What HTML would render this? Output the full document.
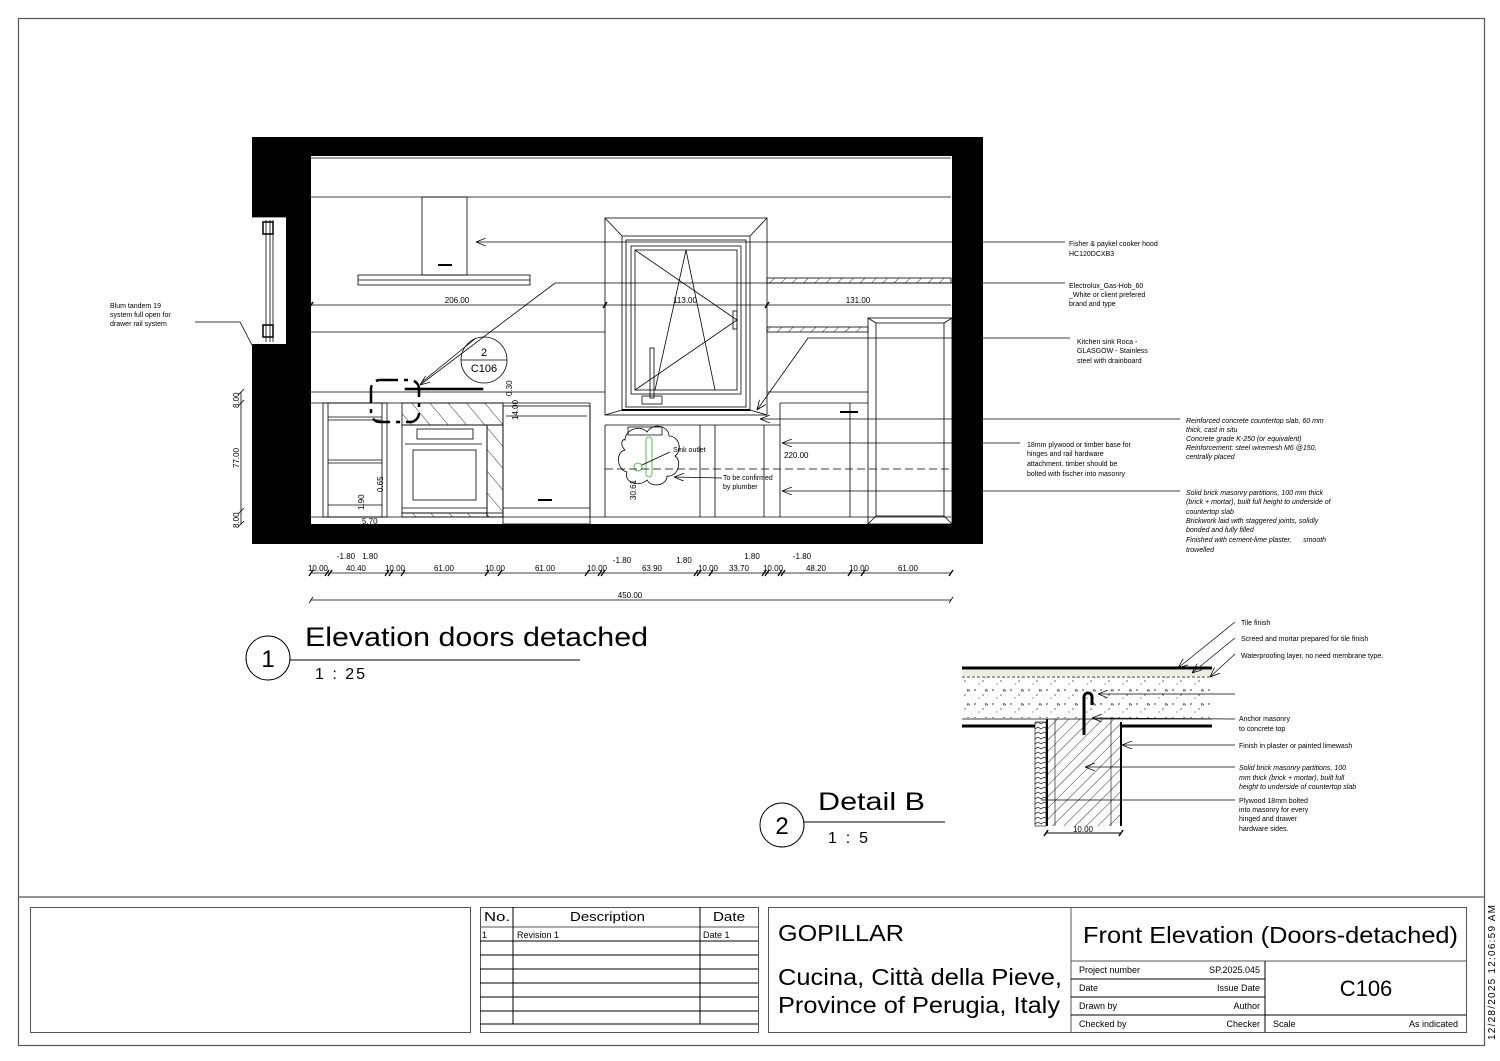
<!DOCTYPE html>
<html><head><meta charset="utf-8"><style>
html,body{margin:0;padding:0;background:#fff;}
svg{display:block;font-family:"Liberation Sans",sans-serif;}
.t{font-size:7px;fill:#000;}
.i{font-size:7px;font-style:italic;fill:#000;}
.d{font-size:8px;fill:#000;font-family:"Liberation Sans Narrow","Liberation Sans",sans-serif;}
</style></head><body>
<svg width="1500" height="1061" viewBox="0 0 1500 1061" xmlns="http://www.w3.org/2000/svg">
<defs>
<pattern id="h" width="8" height="8" patternUnits="userSpaceOnUse" patternTransform="rotate(45)"><line x1="0" y1="0" x2="0" y2="8" stroke="#000" stroke-width="0.8"/></pattern>
<pattern id="h2" width="14" height="14" patternUnits="userSpaceOnUse" patternTransform="rotate(-40)"><line x1="0" y1="0" x2="0" y2="14" stroke="#000" stroke-width="0.8"/></pattern>
<pattern id="dots" width="18" height="14" patternUnits="userSpaceOnUse"><circle cx="3" cy="4" r="0.7"/><circle cx="11" cy="9" r="0.6"/><path d="M14 3 l2 2 h-3z" fill="none" stroke="#000" stroke-width="0.5"/><circle cx="7" cy="12" r="0.5"/></pattern>
<pattern id="zz" width="6" height="5" patternUnits="userSpaceOnUse"><path d="M0 2 l3 2 l3 -2" fill="none" stroke="#000" stroke-width="0.7"/></pattern>
<marker id="a" markerWidth="10" markerHeight="8" refX="10" refY="4" orient="auto" markerUnits="userSpaceOnUse"><path d="M0 0 L10 4 L0 8" fill="none" stroke="#000" stroke-width="0.8"/></marker>
</defs>
<g fill="none" stroke="#000">
<rect x="18.5" y="18.5" width="1466" height="1027" stroke="#555" stroke-width="1.2"/>
<line x1="18" y1="897" x2="1484" y2="897" stroke="#555" stroke-width="1.2"/>
<rect x="30.5" y="907.5" width="440" height="125" stroke="#555"/>
<rect x="480.5" y="907.5" width="278" height="125" stroke="#555"/>
<line x1="480" y1="927" x2="758" y2="927" stroke="#555"/>
<line x1="480" y1="941" x2="758" y2="941"/><line x1="480" y1="955" x2="758" y2="955"/><line x1="480" y1="969" x2="758" y2="969"/><line x1="480" y1="983" x2="758" y2="983"/><line x1="480" y1="997" x2="758" y2="997"/><line x1="480" y1="1011" x2="758" y2="1011"/><line x1="480" y1="1024" x2="758" y2="1024"/>
<line x1="513" y1="907" x2="513" y2="1024"/><line x1="700" y1="907" x2="700" y2="1024"/>
<rect x="768.5" y="907.5" width="698" height="125" stroke="#555"/>
<line x1="1071" y1="907" x2="1071" y2="1032" stroke="#555"/>
<line x1="1071" y1="961" x2="1466" y2="961" stroke="#555"/>
<line x1="1071" y1="979" x2="1265" y2="979"/><line x1="1071" y1="997" x2="1265" y2="997"/><line x1="1071" y1="1015" x2="1466" y2="1015"/>
<line x1="1265" y1="961" x2="1265" y2="1032"/>
</g>
<g fill="#000">
<text x="484" y="921" font-size="13" textLength="26" lengthAdjust="spacingAndGlyphs">No.</text><text x="570" y="921" font-size="13" textLength="75" lengthAdjust="spacingAndGlyphs">Description</text><text x="713" y="921" font-size="13" textLength="32" lengthAdjust="spacingAndGlyphs">Date</text>
<text x="482" y="938" font-size="9">1</text><text x="517" y="938" font-size="9">Revision 1</text><text x="703" y="938" font-size="9">Date 1</text>
<text x="778" y="941" font-size="23" textLength="126" lengthAdjust="spacingAndGlyphs">GOPILLAR</text>
<text x="778" y="985" font-size="23" textLength="284" lengthAdjust="spacingAndGlyphs">Cucina, Città della Pieve,</text>
<text x="778" y="1013" font-size="23" textLength="282" lengthAdjust="spacingAndGlyphs">Province of Perugia, Italy</text>
<text x="1083" y="943" font-size="23" textLength="375" lengthAdjust="spacingAndGlyphs">Front Elevation (Doors-detached)</text>
<text x="1079" y="973" font-size="9">Project number</text><text x="1260" y="973" font-size="9" text-anchor="end">SP.2025.045</text>
<text x="1079" y="991" font-size="9">Date</text><text x="1260" y="991" font-size="9" text-anchor="end">Issue Date</text>
<text x="1079" y="1009" font-size="9">Drawn by</text><text x="1260" y="1009" font-size="9" text-anchor="end">Author</text>
<text x="1079" y="1027" font-size="9">Checked by</text><text x="1260" y="1027" font-size="9" text-anchor="end">Checker</text>
<text x="1273" y="1027" font-size="9">Scale</text><text x="1458" y="1027" font-size="9" text-anchor="end">As indicated</text>
<text x="1366" y="996" font-size="22" text-anchor="middle">C106</text>
<text transform="translate(1495,1040) rotate(-90)" font-size="10" textLength="135" lengthAdjust="spacing">12/28/2025 12:06:59 AM</text>
</g>

<g fill="#000">
<rect x="252" y="137" width="731" height="19"/>
<rect x="252" y="137" width="59" height="80"/>
<rect x="252" y="344" width="59" height="200"/>
<rect x="286" y="217" width="25" height="127"/>
<rect x="952" y="137" width="31" height="407"/>
<rect x="252" y="524" width="731" height="20"/>
</g>
<g fill="none" stroke="#000" stroke-width="0.8">
<line x1="266" y1="220" x2="266" y2="342"/><line x1="270" y1="220" x2="270" y2="342"/><line x1="273" y1="220" x2="273" y2="342"/>
<rect x="263" y="222" width="10" height="12" stroke-width="1.5"/><rect x="263" y="325" width="10" height="12" stroke-width="1.5"/>
<line x1="252" y1="217" x2="286" y2="217"/>
<line x1="311" y1="158" x2="951" y2="158"/>
<line x1="311" y1="197" x2="951" y2="197"/>
<rect x="422" y="197" width="45" height="78"/>
<line x1="438" y1="265" x2="452" y2="265" stroke-width="2"/>
<rect x="358" y="275" width="172" height="10"/><line x1="358" y1="280" x2="530" y2="280"/>
<line x1="311" y1="305" x2="951" y2="305"/>
<line x1="309" y1="308" x2="313" y2="302" stroke-width="1.5"/><line x1="603" y1="308" x2="607" y2="302" stroke-width="1.5"/><line x1="765" y1="308" x2="769" y2="302" stroke-width="1.5"/>
<line x1="311" y1="332" x2="605" y2="332"/>
<rect x="767" y="278" width="184" height="5" fill="url(#h)"/>
<rect x="767" y="327" width="101" height="5" fill="url(#h)"/>
<rect x="605" y="218" width="162" height="197"/>
<path d="M605 218 L622 236 M767 218 L750 236 M605 415 L622 410 M767 415 L750 410"/>
<rect x="622" y="236" width="128" height="174"/>
<rect x="626" y="240" width="120" height="167"/>
<rect x="631" y="246" width="110" height="148"/>
<rect x="635" y="250" width="102" height="140"/>
<path d="M635 250 L737 320 L635 390 M686 250 L655 390 M686 250 L715 390"/>
<rect x="733" y="311" width="4" height="18"/>
<rect x="650" y="348" width="4" height="50"/><rect x="642" y="396" width="20" height="8"/>
<line x1="622" y1="410" x2="750" y2="410" stroke-width="2"/>
<line x1="311" y1="392" x2="605" y2="392"/>
<line x1="767" y1="392" x2="868" y2="392"/>
<line x1="311" y1="403" x2="590" y2="403"/>
<line x1="605" y1="425" x2="780" y2="425"/>
<line x1="311" y1="517" x2="951" y2="517"/>
<line x1="590" y1="403" x2="590" y2="517"/>
<rect x="405" y="388" width="78" height="2" fill="#000" stroke-width="0.6"/>
<rect x="371" y="380" width="48" height="42" rx="9" stroke-width="2.5" stroke-dasharray="18 6 4 6"/>
<rect x="323" y="403" width="64" height="114"/>
<rect x="328" y="403" width="54" height="114"/>
<line x1="328" y1="417" x2="382" y2="417"/><line x1="328" y1="460" x2="382" y2="460"/><line x1="328" y1="505" x2="382" y2="505"/>
<line x1="328" y1="420" x2="382" y2="420"/><line x1="328" y1="463" x2="382" y2="463"/>
<rect x="402" y="403" width="101" height="22" fill="url(#h2)"/>
<rect x="487" y="425" width="16" height="92" fill="url(#h2)"/>
<rect x="402" y="425" width="85" height="88"/>
<rect x="402" y="513" width="101" height="4" fill="url(#h2)"/>
<rect x="417" y="429" width="56" height="10"/>
<line x1="405" y1="444" x2="482" y2="444"/>
<rect x="413" y="450" width="63" height="50"/>
<line x1="402" y1="508" x2="487" y2="508"/>
<rect x="503" y="406" width="87" height="118"/>
<line x1="506" y1="416" x2="587" y2="416"/><line x1="503" y1="508" x2="590" y2="508"/>
<line x1="538" y1="500" x2="552" y2="500" stroke-width="2"/>
<line x1="605" y1="425" x2="605" y2="517"/><line x1="700" y1="425" x2="700" y2="517"/><line x1="715" y1="425" x2="715" y2="517"/>
<line x1="764" y1="425" x2="764" y2="517"/><line x1="780" y1="403" x2="780" y2="517"/>
<line x1="780" y1="403" x2="868" y2="403"/><line x1="850" y1="403" x2="850" y2="517"/>
<line x1="840" y1="412" x2="858" y2="412" stroke-width="2"/>
<path d="M625 440 c0 -10 15 -16 22 -8 c6 -10 22 -6 22 4 c10 0 14 14 6 20 c8 6 2 22 -8 20 c0 10 -16 12 -20 4 c-8 8 -24 2 -20 -8 c-10 -2 -12 -20 -2 -22 c-6 -6 -2 -12 0 -10z"/>
<path d="M628 427 h34 v8 h-34z"/>
<rect x="646" y="437" width="6" height="40" stroke="#3a3" rx="3"/>
<circle cx="638" cy="467" r="4" stroke="#3a3"/>
<line x1="605" y1="469" x2="951" y2="469" stroke-dasharray="8 4"/>
<rect x="868" y="318" width="84" height="206"/>
<rect x="876" y="323" width="68" height="193"/>
<path d="M868 318 L876 323 M952 318 L944 323 M868 524 L876 516 M952 524 L944 516"/>
<line x1="1065" y1="242" x2="476" y2="242" marker-end="url(#a)"/>
<polyline points="1065,283 555,283 420,385" marker-end="url(#a)"/>
<polyline points="1070,338 808,338 757,410" marker-end="url(#a)"/>
<line x1="1180" y1="419" x2="760" y2="419" marker-end="url(#a)"/>
<line x1="1020" y1="443" x2="782" y2="443" marker-end="url(#a)"/>
<line x1="1180" y1="491" x2="782" y2="491" marker-end="url(#a)"/>
<polyline points="195,322 240,322 252,345"/>
<line x1="722" y1="478" x2="674" y2="477" marker-end="url(#a)"/>
<line x1="670" y1="452" x2="642" y2="465"/>
<circle cx="484" cy="360" r="23"/><line x1="461" y1="360" x2="507" y2="360"/>
<line x1="476" y1="338" x2="422" y2="382"/>
<line x1="241" y1="392" x2="241" y2="524"/>
<path d="M238 395 l6 -6 M238 406 l6 -6 M238 514 l6 -6 M238 527 l6 -6"/>
<line x1="311" y1="573" x2="951" y2="573"/>
<line x1="311" y1="600" x2="951" y2="600"/>
<path d="M309 603 l4 -6 M949 603 l4 -6"/>
</g>
<g fill="#000" stroke="#000" stroke-width="1.3">
<path d="M309 576l4-6M325 576l4-6M328 576l4-6M385 576l4-6M389 576l4-6M401 576l4-6M485 576l4-6M498 576l4-6M585 576l4-6M598 576l4-6M601 576l4-6M694 576l4-6M697 576l4-6M709 576l4-6M762 576l4-6M765 576l4-6M778 576l4-6M781 576l4-6M848 576l4-6M861 576l4-6M949 576l4-6"/>
</g>
<g class="d">
<text x="457" y="303" class="d" text-anchor="middle">206.00</text>
<text x="685" y="303" class="d" text-anchor="middle">113.00</text>
<text x="858" y="303" class="d" text-anchor="middle">131.00</text>
<text x="484" y="356" font-size="11" text-anchor="middle">2</text>
<text x="484" y="372" font-size="11" text-anchor="middle">C106</text>
<text x="318" y="571" class="d" text-anchor="middle">10.00</text><text x="356" y="571" class="d" text-anchor="middle">40.40</text>
<text x="395" y="571" class="d" text-anchor="middle">10.00</text><text x="444" y="571" class="d" text-anchor="middle">61.00</text>
<text x="495" y="571" class="d" text-anchor="middle">10.00</text><text x="545" y="571" class="d" text-anchor="middle">61.00</text>
<text x="597" y="571" class="d" text-anchor="middle">10.00</text><text x="652" y="571" class="d" text-anchor="middle">63.90</text>
<text x="708" y="571" class="d" text-anchor="middle">10.00</text><text x="739" y="571" class="d" text-anchor="middle">33.70</text>
<text x="773" y="571" class="d" text-anchor="middle">10.00</text><text x="816" y="571" class="d" text-anchor="middle">48.20</text>
<text x="859" y="571" class="d" text-anchor="middle">10.00</text><text x="908" y="571" class="d" text-anchor="middle">61.00</text>
<text x="346" y="559" class="d" text-anchor="middle">-1.80</text><text x="370" y="559" class="d" text-anchor="middle">1.80</text>
<text x="622" y="563" class="d" text-anchor="middle">-1.80</text><text x="684" y="563" class="d" text-anchor="middle">1.80</text>
<text x="752" y="559" class="d" text-anchor="middle">1.80</text><text x="802" y="559" class="d" text-anchor="middle">-1.80</text>
<text x="630" y="598" class="d" text-anchor="middle">450.00</text>
<text x="784" y="458" class="d">220.00</text>
<text x="362" y="524" class="d">5.70</text>
<text x="673" y="452" class="t">Sink outlet</text>
<text x="723" y="480" class="t">To be confirmed</text><text x="723" y="489" class="t">by plumber</text>
<text transform="translate(239,408) rotate(-90)" class="d">8.00</text>
<text transform="translate(239,468) rotate(-90)" class="d">77.00</text>
<text transform="translate(239,528) rotate(-90)" class="d">8.00</text>
<text transform="translate(512,396) rotate(-90)" class="d">0.30</text>
<text transform="translate(518,420) rotate(-90)" class="d">14.00</text>
<text transform="translate(636,500) rotate(-90)" class="d">30.61</text>
<text transform="translate(383,492) rotate(-90)" class="d">0.65</text>
<text transform="translate(364,510) rotate(-90)" class="d">1.90</text>
</g>
<g>
<text x="1069" y="246" class="t">Fisher &amp; paykel cooker hood</text><text x="1069" y="256" class="t">HC120DCXB3</text>
<text x="1069" y="288" class="t">Electrolux_Gas-Hob_60</text><text x="1069" y="297" class="t">_White or client prefered</text><text x="1069" y="306" class="t">brand and type</text>
<text x="1077" y="344" class="t">Kitchen sink Roca -</text><text x="1077" y="353" class="t">GLASGOW - Stainless</text><text x="1077" y="363" class="t">steel with drainboard</text>
<text x="1186" y="423" class="i">Reinforced concrete countertop slab, 60 mm</text><text x="1186" y="432" class="i">thick, cast in situ</text><text x="1186" y="441" class="i">Concrete grade K-250 (or equivalent)</text><text x="1186" y="450" class="i">Reinforcement: steel wiremesh M6 @150,</text><text x="1186" y="459" class="i">centrally placed</text>
<text x="1027" y="447" class="t">18mm plywood or timber base for</text><text x="1027" y="456" class="t">hinges and rail hardware</text><text x="1027" y="466" class="t">attachment. timber should be</text><text x="1027" y="476" class="t">bolted with fischer into masonry</text>
<text x="1186" y="495" class="i">Solid brick masonry partitions, 100 mm thick</text><text x="1186" y="504" class="i">(brick + mortar), built full height to underside of</text><text x="1186" y="514" class="i">countertop slab</text><text x="1186" y="523" class="i">Brickwork laid with staggered joints, solidly</text><text x="1186" y="532" class="i">bonded and fully filled</text><text x="1186" y="542" class="i">Finished with cement-lime plaster,&#160;&#160;&#160;&#160;&#160; smooth</text><text x="1186" y="552" class="i">trowelled</text>
<text x="110" y="308" class="t">Blum tandem 19</text><text x="110" y="317" class="t">system full open for</text><text x="110" y="326" class="t">drawer rail system</text>
</g>
<g fill="none" stroke="#000">
<circle cx="268" cy="658" r="22"/><line x1="290" y1="660" x2="580" y2="660"/>
<circle cx="782" cy="825" r="22"/><line x1="804" y1="822" x2="945" y2="822"/>
</g>
<g fill="#000">
<text x="268" y="667" font-size="24" text-anchor="middle">1</text>
<text x="305" y="646" font-size="27" textLength="343" lengthAdjust="spacingAndGlyphs">Elevation doors detached</text>
<text x="315" y="679" font-size="16" textLength="50" lengthAdjust="spacing">1 : 25</text>
<text x="782" y="834" font-size="24" text-anchor="middle">2</text>
<text x="818" y="810" font-size="25" textLength="107" lengthAdjust="spacingAndGlyphs">Detail B</text>
<text x="828" y="843" font-size="16" textLength="40" lengthAdjust="spacing">1 : 5</text>
</g>
<g stroke="#000" fill="none">
<rect x="962" y="677" width="250" height="41" fill="url(#dots)" stroke="none"/>
<line x1="962" y1="668" x2="1212" y2="668" stroke-width="3"/>
<rect x="962" y="670" width="250" height="6" fill="#efece0" stroke="none"/>
<line x1="962" y1="677" x2="1212" y2="677" stroke-width="0.7" stroke-dasharray="3 2"/>
<line x1="962" y1="719" x2="1212" y2="719" stroke-width="0.7"/>
<line x1="962" y1="726" x2="1035" y2="726" stroke-width="3"/>
<line x1="1121" y1="726" x2="1212" y2="726" stroke-width="3"/>
<rect x="1035" y="722" width="11" height="104" fill="url(#zz)" stroke-width="0.6"/>
<rect x="1047" y="719" width="74" height="107" fill="url(#h)" stroke="none"/>
<line x1="1047" y1="719" x2="1047" y2="826" stroke-width="2"/>
<line x1="1121" y1="722" x2="1121" y2="826" stroke-width="2"/>
<line x1="1055" y1="719" x2="1055" y2="826" stroke-width="0.6"/>
<line x1="1111" y1="719" x2="1111" y2="826" stroke-width="0.6"/>
<path d="M1084 735 v-38 a4 4 0 0 1 8 0 v8" stroke-width="3"/>
<line x1="1046" y1="833" x2="1121" y2="833"/>
<path d="M1044 836l4-6M1119 836l4-6" stroke-width="1.5"/>
<g stroke-width="0.7">
<line x1="1235" y1="622" x2="1178" y2="668" marker-end="url(#a)"/>
<line x1="1235" y1="638" x2="1192" y2="673" marker-end="url(#a)"/>
<line x1="1235" y1="654" x2="1210" y2="677" marker-end="url(#a)"/>
<line x1="1235" y1="694" x2="1098" y2="694" marker-end="url(#a)"/>
<line x1="1235" y1="719" x2="1092" y2="718" marker-end="url(#a)"/>
<line x1="1235" y1="745" x2="1122" y2="745" marker-end="url(#a)"/>
<line x1="1235" y1="767" x2="1085" y2="767" marker-end="url(#a)"/>
<line x1="1235" y1="800" x2="1041" y2="800"/>
</g>
</g>
<g>
<text x="1083" y="832" class="d" text-anchor="middle">10.00</text>
<text x="1241" y="625" class="t">Tile finish</text>
<text x="1241" y="641" class="t">Screed and mortar prepared for tile finish</text>
<text x="1241" y="658" class="t">Waterproofing layer, no need membrane type.</text>
<text x="1239" y="721" class="t">Anchor masonry</text><text x="1239" y="731" class="t">to concrete top</text>
<text x="1239" y="748" class="t">Finish in plaster or painted limewash</text>
<text x="1239" y="770" class="i">Solid brick masonry partitions, 100</text><text x="1239" y="780" class="i">mm thick (brick + mortar), built full</text><text x="1239" y="789" class="i">height to underside of countertop slab</text>
<text x="1239" y="803" class="t">Plywood 18mm bolted</text><text x="1239" y="812" class="t">into masonry for every</text><text x="1239" y="821" class="t">hinged and drawer</text><text x="1239" y="831" class="t">hardware sides.</text>
</g>
</svg>
</body></html>
